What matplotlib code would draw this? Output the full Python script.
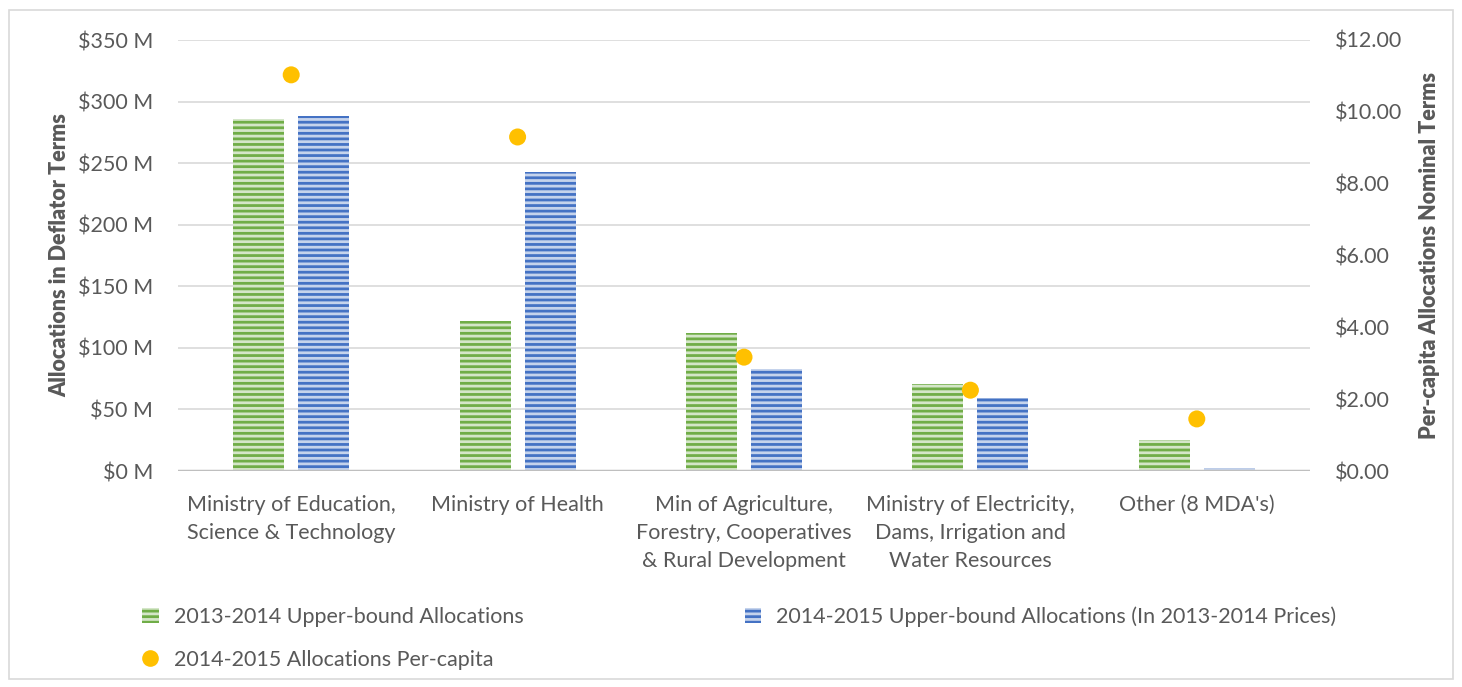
import matplotlib
matplotlib.use("Agg")
import matplotlib.pyplot as plt
import numpy as np
from matplotlib.patches import Patch, Rectangle
from matplotlib.lines import Line2D

categories = ["Ministry of Education,\nScience & Technology",
              "Ministry of Health",
              "Min of Agriculture,\nForestry, Cooperatives\n& Rural Development",
              "Ministry of Electricity,\nDams, Irrigation and\nWater Resources",
              "Other (8 MDA's)"]
alloc_2013 = [286, 122, 112, 70.6, 25.2]
alloc_2014 = [288, 243, 83, 59.3, 2.4]
per_capita = [11.03, 9.30, 3.17, 2.25, 1.45]
left_ticks = [0, 50, 100, 150, 200, 250, 300, 350]
right_ticks = [0, 2, 4, 6, 8, 10, 12]

plt.rcParams['font.family'] = ['Lato', 'DejaVu Sans']
plt.rcParams['hatch.linewidth'] = 2.0
txt = '#595959'
fs = 15.5

fig = plt.figure(figsize=(14.62, 6.87), dpi=100)
fig.patches.append(Rectangle((9/1462, 1-(679/687)), 1-18/1462, 669/687,
                             transform=fig.transFigure, fill=False,
                             edgecolor='#D9D9D9', lw=1.2, zorder=0))
ax = fig.add_axes([178/1462, 1-471/687, (1310-178)/1462, (471-40)/687])
ax2 = ax.twinx()

x = np.arange(len(categories))
w = 0.225
off = 0.1435
green = '#70AD47'; green_h = '#D4E6C8'
blue = '#4472C4'; blue_h = '#C5D3EC'
ax.bar(x - off, alloc_2013, w, color=green, edgecolor=green_h, hatch='---', lw=0, zorder=3)
ax.bar(x + off, alloc_2014, w, color=blue, edgecolor=blue_h, hatch='---', lw=0, zorder=3)
ax2.scatter(x, per_capita, s=150, color='#FFC000', zorder=4, edgecolors='none')

ax.set_xlim(-0.5, len(categories) - 0.5)
ax.set_ylim(0, 350)
ax2.set_ylim(0, 12)
ax.set_yticks(left_ticks)
ax.set_yticklabels([f"${v} M" for v in left_ticks])
ax2.set_yticks(right_ticks)
ax2.set_yticklabels([f"${v:.2f}" for v in right_ticks])
ax.set_xticks(x)
ax.set_xticklabels(categories, fontsize=fs, color=txt, linespacing=1.5)
ax.grid(axis='y', color='#D9D9D9', lw=1.2, zorder=0)
ax.set_axisbelow(True)
ax.axhline(0, color='#BFBFBF', lw=2.5, zorder=5)
for a in (ax, ax2):
    for s in a.spines.values():
        s.set_visible(False)
    a.tick_params(length=0, labelsize=fs, labelcolor=txt)
ax.tick_params(axis='y', pad=18)
ax2.tick_params(axis='y', pad=18)
ax.tick_params(axis='x', pad=17)

ax.set_ylabel("Allocations in Deflator Terms", fontsize=fs, fontweight='heavy', color=txt, labelpad=5)
ax2.set_ylabel("Per-capita Allocations Nominal Terms", fontsize=fs, fontweight='heavy', color=txt,
               rotation=90, labelpad=12)

handles = [Patch(facecolor=green, edgecolor=green_h, hatch='---', lw=0),
           Line2D([], [], marker='o', color='none', markerfacecolor='#FFC000',
                  markeredgecolor='none', markersize=12),
           Patch(facecolor=blue, edgecolor=blue_h, hatch='---', lw=0)]
labels = ["2013-2014 Upper-bound Allocations",
          "2014-2015 Allocations Per-capita",
          "2014-2015 Upper-bound Allocations (In 2013-2014 Prices)"]
leg = fig.legend(handles, labels, ncol=2, loc='upper left',
                 bbox_to_anchor=(123/1462, 1-587/687), frameon=False,
                 fontsize=fs, labelcolor=txt, columnspacing=10.3,
                 handlelength=0.75, handleheight=0.75, handletextpad=0.7,
                 labelspacing=1.05)

fig.savefig("out.png", dpi=100)
